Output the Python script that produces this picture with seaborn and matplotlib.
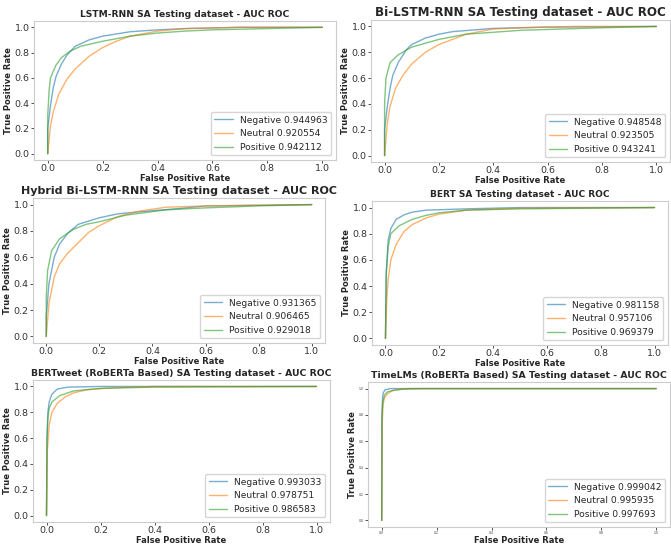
import matplotlib
matplotlib.use("Agg")
import matplotlib.pyplot as plt
import seaborn as sns

sns.set_style("ticks")
plt.rcParams['font.family'] = ['DejaVu Sans']

# ROC curve points (fpr, tpr) for each model / class

# LSTM-RNN
lstm_neg_fpr = [0.0, 0.0, 0.01, 0.02, 0.03, 0.05, 0.07, 0.1, 0.15, 0.2, 0.3, 0.4, 0.5, 0.7, 1.0]
lstm_neg_tpr = [0.0, 0.2, 0.38, 0.52, 0.61, 0.71, 0.78, 0.85, 0.9, 0.93, 0.965, 0.98, 0.99, 1.0, 1.0]
lstm_neu_fpr = [0.0, 0.01, 0.02, 0.04, 0.07, 0.1, 0.15, 0.2, 0.25, 0.3, 0.4, 0.5, 0.7, 1.0]
lstm_neu_tpr = [0.0, 0.22, 0.33, 0.47, 0.59, 0.67, 0.77, 0.84, 0.89, 0.93, 0.97, 0.99, 1.0, 1.0]
lstm_pos_fpr = [0.0, 0.0, 0.005, 0.01, 0.03, 0.05, 0.08, 0.12, 0.2, 0.3, 0.4, 0.5, 0.6, 0.8, 1.0]
lstm_pos_tpr = [0.0, 0.3, 0.5, 0.6, 0.7, 0.76, 0.81, 0.85, 0.89, 0.93, 0.955, 0.97, 0.98, 0.99, 1.0]

# Bi-LSTM-RNN
bilstm_neg_fpr = [0.0, 0.0, 0.01, 0.02, 0.03, 0.05, 0.08, 0.1, 0.15, 0.2, 0.25, 0.4, 0.6, 1.0]
bilstm_neg_tpr = [0.0, 0.2, 0.38, 0.52, 0.62, 0.72, 0.82, 0.86, 0.91, 0.94, 0.96, 0.985, 0.995, 1.0]
bilstm_neu_fpr = [0.0, 0.01, 0.02, 0.04, 0.07, 0.1, 0.15, 0.2, 0.3, 0.4, 0.5, 0.7, 1.0]
bilstm_neu_tpr = [0.0, 0.25, 0.38, 0.52, 0.63, 0.71, 0.8, 0.86, 0.94, 0.98, 0.99, 1.0, 1.0]
bilstm_pos_fpr = [0.0, 0.0, 0.005, 0.02, 0.05, 0.1, 0.15, 0.2, 0.3, 0.5, 0.8, 1.0]
bilstm_pos_tpr = [0.0, 0.4, 0.6, 0.72, 0.78, 0.84, 0.87, 0.9, 0.94, 0.97, 0.99, 1.0]

# Hybrid Bi-LSTM-RNN
hybrid_neg_fpr = [0.0, 0.0, 0.01, 0.03, 0.05, 0.08, 0.12, 0.2, 0.27, 0.35, 0.5, 0.6, 1.0]
hybrid_neg_tpr = [0.0, 0.15, 0.4, 0.6, 0.7, 0.78, 0.85, 0.9, 0.93, 0.945, 0.97, 0.99, 1.0]
hybrid_neu_fpr = [0.0, 0.01, 0.03, 0.05, 0.08, 0.12, 0.16, 0.2, 0.27, 0.35, 0.45, 0.6, 1.0]
hybrid_neu_tpr = [0.0, 0.25, 0.45, 0.55, 0.63, 0.71, 0.79, 0.84, 0.91, 0.95, 0.98, 0.99, 1.0]
hybrid_pos_fpr = [0.0, 0.0, 0.005, 0.02, 0.05, 0.1, 0.15, 0.2, 0.3, 0.45, 0.6, 0.8, 1.0]
hybrid_pos_tpr = [0.0, 0.3, 0.5, 0.65, 0.74, 0.81, 0.85, 0.87, 0.92, 0.96, 0.975, 0.99, 1.0]

# BERT
bert_neg_fpr = [0.0, 0.003, 0.01, 0.02, 0.04, 0.07, 0.1, 0.15, 0.3, 0.5, 1.0]
bert_neg_tpr = [0.0, 0.5, 0.75, 0.84, 0.91, 0.945, 0.965, 0.98, 0.99, 1.0, 1.0]
bert_neu_fpr = [0.0, 0.005, 0.01, 0.02, 0.04, 0.07, 0.1, 0.15, 0.2, 0.3, 0.5, 1.0]
bert_neu_tpr = [0.0, 0.3, 0.45, 0.6, 0.72, 0.82, 0.87, 0.92, 0.95, 0.98, 0.995, 1.0]
bert_pos_fpr = [0.0, 0.003, 0.01, 0.02, 0.05, 0.1, 0.15, 0.2, 0.3, 0.5, 1.0]
bert_pos_tpr = [0.0, 0.5, 0.7, 0.8, 0.86, 0.91, 0.94, 0.96, 0.98, 0.99, 1.0]

# BERTweet (RoBERTa Based)
bertweet_neg_fpr = [0.0, 0.002, 0.005, 0.01, 0.02, 0.04, 0.08, 0.2, 1.0]
bertweet_neg_tpr = [0.0, 0.6, 0.8, 0.88, 0.94, 0.98, 0.995, 1.0, 1.0]
bertweet_neu_fpr = [0.0, 0.003, 0.01, 0.02, 0.04, 0.07, 0.1, 0.15, 0.25, 0.4, 1.0]
bertweet_neu_tpr = [0.0, 0.5, 0.7, 0.8, 0.87, 0.92, 0.95, 0.975, 0.99, 1.0, 1.0]
bertweet_pos_fpr = [0.0, 0.002, 0.005, 0.01, 0.02, 0.05, 0.1, 0.2, 0.4, 1.0]
bertweet_pos_tpr = [0.0, 0.6, 0.75, 0.83, 0.88, 0.93, 0.965, 0.985, 0.995, 1.0]

# TimeLMs (RoBERTa Based)
timelm_neg_fpr = [0.0, 0.001, 0.003, 0.006, 0.012, 0.03, 1.0]
timelm_neg_tpr = [0.0, 0.8, 0.93, 0.97, 0.99, 1.0, 1.0]
timelm_neu_fpr = [0.0, 0.002, 0.005, 0.01, 0.02, 0.04, 0.07, 0.15, 1.0]
timelm_neu_tpr = [0.0, 0.75, 0.88, 0.93, 0.96, 0.985, 0.995, 1.0, 1.0]
timelm_pos_fpr = [0.0, 0.001, 0.004, 0.01, 0.02, 0.05, 0.1, 1.0]
timelm_pos_tpr = [0.0, 0.8, 0.9, 0.95, 0.975, 0.99, 1.0, 1.0]

class_names = ['Negative', 'Neutral', 'Positive']
colors = sns.color_palette('tab10')[:3]

# Panels: title, curves, AUC values, pixel box (left, top, right, bottom), title size, tick size
panels = [
    ("LSTM-RNN SA Testing dataset - AUC ROC",
     [(lstm_neg_fpr, lstm_neg_tpr), (lstm_neu_fpr, lstm_neu_tpr), (lstm_pos_fpr, lstm_pos_tpr)],
     ['0.944963', '0.920554', '0.942112'], (34, 21, 336, 160), 6.6, 6.8),
    ("Bi-LSTM-RNN SA Testing dataset - AUC ROC",
     [(bilstm_neg_fpr, bilstm_neg_tpr), (bilstm_neu_fpr, bilstm_neu_tpr), (bilstm_pos_fpr, bilstm_pos_tpr)],
     ['0.948548', '0.923505', '0.943241'], (371, 20, 670, 162), 8.6, 6.8),
    ("Hybrid Bi-LSTM-RNN SA Testing dataset - AUC ROC",
     [(hybrid_neg_fpr, hybrid_neg_tpr), (hybrid_neu_fpr, hybrid_neu_tpr), (hybrid_pos_fpr, hybrid_pos_tpr)],
     ['0.931365', '0.906465', '0.929018'], (33, 198, 325, 343), 8.0, 6.8),
    ("BERT SA Testing dataset - AUC ROC",
     [(bert_neg_fpr, bert_neg_tpr), (bert_neu_fpr, bert_neu_tpr), (bert_pos_fpr, bert_pos_tpr)],
     ['0.981158', '0.957106', '0.969379'], (372, 201, 668, 345), 6.5, 6.8),
    ("BERTweet (RoBERTa Based) SA Testing dataset - AUC ROC",
     [(bertweet_neg_fpr, bertweet_neg_tpr), (bertweet_neu_fpr, bertweet_neu_tpr), (bertweet_pos_fpr, bertweet_pos_tpr)],
     ['0.993033', '0.978751', '0.986583'], (33, 380, 330, 522), 6.7, 6.8),
    ("TimeLMs (RoBERTa Based) SA Testing dataset - AUC ROC",
     [(timelm_neg_fpr, timelm_neg_tpr), (timelm_neu_fpr, timelm_neu_tpr), (timelm_pos_fpr, timelm_pos_tpr)],
     ['0.999042', '0.995935', '0.997693'], (368, 382, 670, 527), 6.7, 2.2),
]

W, H = 671, 546
fig = plt.figure(figsize=(W / 100, H / 100), dpi=100)

for title, curves, aucs, box, title_size, tick_size in panels:
    l, t, r, b = box
    ax = fig.add_axes([l / W, 1 - b / H, (r - l) / W, (b - t) / H])
    for (fpr, tpr), name, auc, color in zip(curves, class_names, aucs, colors):
        sns.lineplot(x=fpr, y=tpr, ax=ax, color=color, alpha=0.6, linewidth=1,
                     estimator=None, sort=False, label=f"{name} {auc}")
    ax.set_title(title, fontsize=title_size, fontweight='bold', pad=3)
    ax.set_xlabel('False Positive Rate', fontsize=6, fontweight='bold', labelpad=0.5)
    ax.set_ylabel('True Positive Rate', fontsize=6, fontweight='bold', labelpad=1)
    ax.set_xticks([0.0, 0.2, 0.4, 0.6, 0.8, 1.0])
    ax.set_yticks([0.0, 0.2, 0.4, 0.6, 0.8, 1.0])
    ax.tick_params(labelsize=tick_size, length=2, width=0.6, pad=1, colors='#333333')
    for spine in ax.spines.values():
        spine.set_visible(True)
        spine.set_color('#cccccc')
        spine.set_linewidth(0.8)
    ax.legend(loc='lower right', fontsize=6.6, frameon=True)

plt.savefig("out.png", dpi=100)
